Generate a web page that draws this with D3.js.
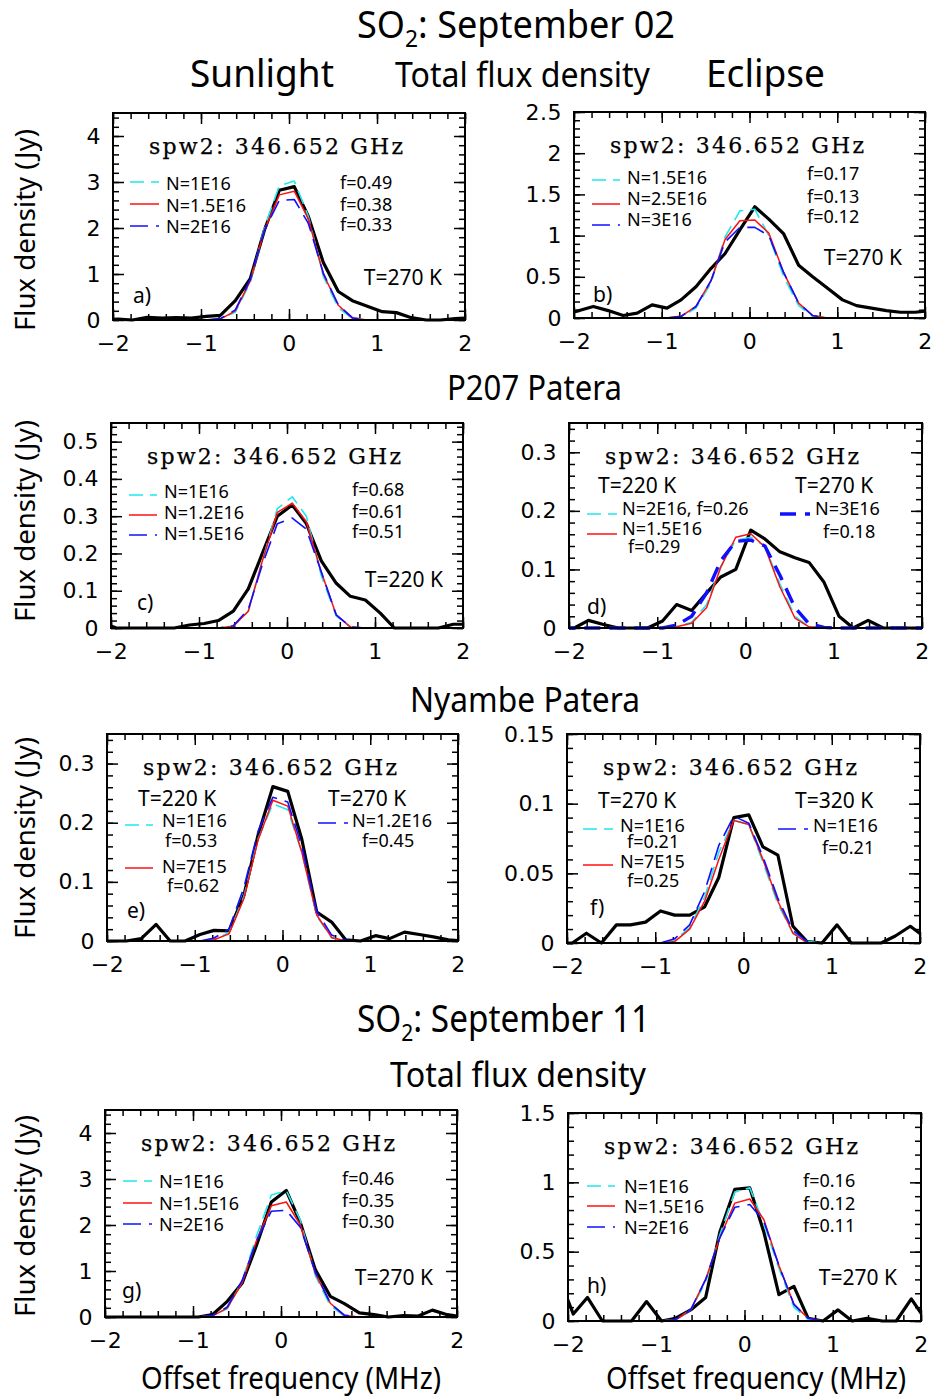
<!DOCTYPE html>
<html>
<head>
<meta charset="utf-8">
<script src="https://cdn.jsdelivr.net/npm/d3@7"></script>
<style>
  body { margin: 0; background: #fff; }
  svg { display: block; }
</style>
</head>
<body>
<div id="container"></div>
<script>
/* CONSTANTS AND GLOBALS */
const width = 933;
const height = 1398;
const sans = "'Noto Sans', 'Open Sans', sans-serif";
const tickFont = "'DejaVu Sans', sans-serif";
const spwFont = "'DejaVu Serif', serif";

/* DATA */
// channel offsets (MHz), shared by every spectrum
const freq = [-2.11, -1.94, -1.78, -1.61, -1.44, -1.28, -1.11, -0.94, -0.78, -0.61, -0.44, -0.28, -0.11,
              0.06, 0.22, 0.39, 0.56, 0.72, 0.89, 1.06, 1.22, 1.39, 1.56, 1.72, 1.89, 2.06];

// a) Sep 02 sunlight
const obsA  = [0, 0.02, 0, 0.06, 0.04, 0.05, 0.04, 0.08, 0.1, 0.42, 0.9, 1.95, 2.82, 2.9, 2.25, 1.25, 0.62, 0.42, 0.3, 0.18, 0.16, 0.05, 0, 0, 0.03, 0.05];
const cyanA = [0, 0, 0, 0, 0, 0, 0, 0, 0.02, 0.17, 0.82, 2.0, 2.92, 3.02, 2.25, 0.95, 0.27, 0.03, 0, 0, 0, 0, 0, 0, 0, 0];
const redA  = [0, 0, 0, 0, 0, 0, 0, 0, 0.02, 0.2, 0.85, 1.95, 2.72, 2.8, 2.2, 1.0, 0.32, 0.04, 0, 0, 0, 0, 0, 0, 0, 0];
const blueA = [0, 0, 0, 0, 0, 0, 0, 0, 0.03, 0.22, 0.88, 1.95, 2.6, 2.62, 2.1, 1.02, 0.33, 0.05, 0, 0, 0, 0, 0, 0, 0, 0];

// b) Sep 02 eclipse
const obsB  = [0.05, 0.09, 0.14, 0.09, 0.03, 0.06, 0.16, 0.12, 0.22, 0.38, 0.6, 0.78, 1.07, 1.35, 1.2, 1.02, 0.64, 0.5, 0.36, 0.22, 0.15, 0.12, 0.09, 0.07, 0.07, 0.09];
const cyanB = [0, 0, 0, 0, 0, 0, 0, 0, 0.01, 0.12, 0.42, 0.98, 1.3, 1.32, 1.0, 0.5, 0.15, 0.02, 0, 0, 0, 0, 0, 0, 0, 0];
const redB  = [0, 0, 0, 0, 0, 0, 0, 0, 0.02, 0.14, 0.45, 0.95, 1.18, 1.19, 1.03, 0.55, 0.18, 0.03, 0, 0, 0, 0, 0, 0, 0, 0];
const blueB = [0, 0, 0, 0, 0, 0, 0, 0, 0.02, 0.14, 0.45, 0.92, 1.1, 1.1, 1.0, 0.55, 0.18, 0.03, 0, 0, 0, 0, 0, 0, 0, 0];

// c) P207 sunlight
const obsC  = [0.015, 0, 0, 0, 0, 0, 0.008, 0.012, 0.02, 0.045, 0.105, 0.2, 0.3, 0.33, 0.28, 0.18, 0.12, 0.085, 0.075, 0.04, 0, 0, 0, 0, 0.01, 0.01];
const cyanC = [0, 0, 0, 0, 0, 0, 0, 0, 0, 0.005, 0.045, 0.18, 0.32, 0.352, 0.3, 0.14, 0.032, 0.002, 0, 0, 0, 0, 0, 0, 0, 0];
const redC  = [0, 0, 0, 0, 0, 0, 0, 0, 0, 0.005, 0.045, 0.18, 0.31, 0.335, 0.285, 0.15, 0.035, 0.003, 0, 0, 0, 0, 0, 0, 0, 0];
const blueC = [0, 0, 0, 0, 0, 0, 0, 0, 0, 0.006, 0.05, 0.17, 0.28, 0.295, 0.265, 0.15, 0.035, 0.003, 0, 0, 0, 0, 0, 0, 0, 0];

// d) P207 eclipse
const obsD  = [0, 0, 0.013, 0.006, 0, 0, 0, 0.012, 0.04, 0.03, 0.06, 0.087, 0.1, 0.167, 0.152, 0.13, 0.12, 0.112, 0.078, 0.02, 0, 0.013, 0, 0, 0, 0];
const cyanD = [0, 0, 0, 0, 0, 0, 0, 0, 0.002, 0.01, 0.04, 0.105, 0.15, 0.155, 0.14, 0.075, 0.02, 0.002, 0, 0, 0, 0, 0, 0, 0, 0];
const redD  = [0, 0, 0, 0, 0, 0, 0, 0, 0.002, 0.008, 0.035, 0.104, 0.155, 0.161, 0.138, 0.07, 0.017, 0.002, 0, 0, 0, 0, 0, 0, 0, 0];
const blueD = [0, 0, 0, 0, 0, 0, 0, 0, 0.005, 0.02, 0.06, 0.115, 0.148, 0.15, 0.14, 0.09, 0.035, 0.007, 0.001, 0, 0, 0, 0, 0, 0, 0];

// e) Nyambe sunlight
const obsE  = [0, 0, 0, 0.004, 0.028, 0, 0, 0.011, 0.018, 0.017, 0.077, 0.178, 0.261, 0.253, 0.172, 0.049, 0.032, 0.002, 0, 0.009, 0.004, 0.015, 0.011, 0.007, 0.002, 0];
const cyanE = [0, 0, 0, 0, 0, 0, 0, 0, 0.002, 0.014, 0.075, 0.172, 0.232, 0.222, 0.15, 0.042, 0.005, 0, 0, 0, 0, 0, 0, 0, 0, 0];
const redE  = [0, 0, 0, 0, 0, 0, 0, 0, 0.002, 0.012, 0.072, 0.17, 0.238, 0.228, 0.15, 0.044, 0.006, 0, 0, 0, 0, 0, 0, 0, 0, 0];
const blueE = [0, 0, 0, 0, 0, 0, 0, 0, 0.005, 0.02, 0.09, 0.185, 0.243, 0.235, 0.16, 0.05, 0.01, 0.001, 0, 0, 0, 0, 0, 0, 0, 0];

// f) Nyambe eclipse
const obsF  = [0, 0, 0.007, 0, 0.013, 0.013, 0.015, 0.023, 0.02, 0.02, 0.026, 0.047, 0.09, 0.092, 0.069, 0.063, 0.012, 0.001, 0, 0.013, 0, 0, 0, 0.005, 0.012, 0.004];
const cyanF = [0, 0, 0, 0, 0, 0, 0, 0, 0.002, 0.011, 0.033, 0.065, 0.088, 0.085, 0.058, 0.028, 0.007, 0.001, 0, 0, 0, 0, 0, 0, 0, 0];
const redF  = [0, 0, 0, 0, 0, 0, 0, 0, 0.001, 0.01, 0.03, 0.06, 0.088, 0.085, 0.06, 0.03, 0.007, 0, 0, 0, 0, 0, 0, 0, 0, 0];
const blueF = [0, 0, 0, 0, 0, 0, 0, 0, 0.003, 0.013, 0.037, 0.07, 0.091, 0.086, 0.062, 0.032, 0.009, 0.001, 0, 0, 0, 0, 0, 0, 0, 0];

// g) Sep 11 sunlight
const obsG  = [0, 0, 0, 0, 0, 0, 0, 0, 0.05, 0.34, 0.74, 1.55, 2.5, 2.75, 2.05, 1.03, 0.45, 0.29, 0.09, 0.05, 0, 0.03, 0.02, 0.15, 0.05, 0];
const cyanG = [0, 0, 0, 0, 0, 0, 0, 0, 0.02, 0.18, 0.78, 1.75, 2.65, 2.75, 2.1, 0.9, 0.25, 0.02, 0, 0, 0, 0, 0, 0, 0, 0];
const redG  = [0, 0, 0, 0, 0, 0, 0, 0, 0.02, 0.2, 0.75, 1.65, 2.42, 2.5, 2.0, 0.95, 0.3, 0.03, 0, 0, 0, 0, 0, 0, 0, 0];
const blueG = [0, 0, 0, 0, 0, 0, 0, 0, 0.03, 0.22, 0.8, 1.65, 2.3, 2.32, 1.95, 0.98, 0.3, 0.04, 0, 0, 0, 0, 0, 0, 0, 0];

// h) Sep 11 eclipse
const obsH  = [0.33, 0.05, 0.17, 0, 0, 0, 0.14, 0, 0.02, 0.08, 0.17, 0.64, 0.95, 0.96, 0.64, 0.19, 0.25, 0.02, 0, 0.08, 0, 0.02, 0, 0, 0.16, 0];
const cyanH = [0, 0, 0, 0, 0, 0, 0, 0, 0.01, 0.08, 0.28, 0.62, 0.93, 0.96, 0.7, 0.38, 0.1, 0.01, 0, 0, 0, 0, 0, 0, 0, 0];
const redH  = [0, 0, 0, 0, 0, 0, 0, 0, 0.01, 0.08, 0.3, 0.6, 0.85, 0.88, 0.73, 0.4, 0.12, 0.02, 0, 0, 0, 0, 0, 0, 0, 0];
const blueH = [0, 0, 0, 0, 0, 0, 0, 0, 0.01, 0.08, 0.3, 0.6, 0.82, 0.84, 0.72, 0.4, 0.12, 0.02, 0, 0, 0, 0, 0, 0, 0, 0];

// tick labels
const xTicks = [-2, -1, 0, 1, 2];
const yTicksA = [0, 1, 2, 3, 4];
const yTicksB = [0, 0.5, 1, 1.5, 2, 2.5];
const yTicksC = [0, 0.1, 0.2, 0.3, 0.4, 0.5];
const yTicksD = [0, 0.1, 0.2, 0.3];
const yTicksE = [0, 0.1, 0.2, 0.3];
const yTicksF = [0, 0.05, 0.1, 0.15];
const yTicksG = [0, 1, 2, 3, 4];
const yTicksH = [0, 0.5, 1, 1.5];

/* STYLES */
const styles = {
  obs:  { color: "#000",    w: 3.2, dash: null },
  cyan: { color: "#1ee8ee", w: 1.6, dash: "14,7" },
  red:  { color: "#ff1010", w: 1.5, dash: null },
  blue: { color: "#1010ff", w: 1.6, dash: "18,8" },
  blueThick: { color: "#1010ff", w: 3.4, dash: "16,9" }
};

/* PANELS (layout) */
const spw = "spw2: 346.652 GHz";
const panels = [
  { id: "a", x0: 113, x1: 465, y0: 113, y1: 320, ymax: 4.5, yTicks: yTicksA, minorY: 0.2, yTitle: 230,
    data: [obsA, cyanA, redA, blueA],
    notes: [
      { line: "cyan", x1: 17, x2: 46, y: 69 }, { line: "red", x1: 17, x2: 46, y: 91 }, { line: "blue", x1: 17, x2: 46, y: 113 },
      { t: "N=1E16", x: 53, y: 77 }, { t: "N=1.5E16", x: 53, y: 99 }, { t: "N=2E16", x: 53, y: 120 },
      { t: "f=0.49", x: 227, y: 76 }, { t: "f=0.38", x: 227, y: 98 }, { t: "f=0.33", x: 227, y: 118 },
      { t: "T=270 K", x: 329, y: 172, s: 21, end: true }, { t: "a)", x: 20, y: 190, s: 21 }
    ] },
  { id: "b", x0: 574, x1: 925, y0: 112, y1: 318, ymax: 2.5, yTicks: yTicksB, minorY: 0.1,
    data: [obsB, cyanB, redB, blueB],
    notes: [
      { line: "cyan", x1: 18, x2: 46, y: 68 }, { line: "red", x1: 18, x2: 46, y: 92 }, { line: "blue", x1: 18, x2: 46, y: 113 },
      { t: "N=1.5E16", x: 53, y: 72 }, { t: "N=2.5E16", x: 53, y: 93 }, { t: "N=3E16", x: 53, y: 114 },
      { t: "f=0.17", x: 233, y: 68 }, { t: "f=0.13", x: 233, y: 91 }, { t: "f=0.12", x: 233, y: 111 },
      { t: "T=270 K", x: 328, y: 153, s: 21, end: true }, { t: "b)", x: 19, y: 190, s: 21 }
    ] },
  { id: "c", x0: 111, x1: 463, y0: 423, y1: 628, ymax: 0.55, yTicks: yTicksC, minorY: 0.02, yTitle: 521,
    data: [obsC, cyanC, redC, blueC],
    notes: [
      { line: "cyan", x1: 18, x2: 46, y: 72 }, { line: "red", x1: 18, x2: 46, y: 92 }, { line: "blue", x1: 18, x2: 46, y: 112 },
      { t: "N=1E16", x: 53, y: 75 }, { t: "N=1.2E16", x: 53, y: 96 }, { t: "N=1.5E16", x: 53, y: 117 },
      { t: "f=0.68", x: 241, y: 73 }, { t: "f=0.61", x: 241, y: 95 }, { t: "f=0.51", x: 241, y: 115 },
      { t: "T=220 K", x: 332, y: 164, s: 21, end: true }, { t: "c)", x: 26, y: 187, s: 21 }
    ] },
  { id: "d", x0: 569, x1: 922, y0: 423, y1: 628, ymax: 0.35, yTicks: yTicksD, minorY: 0.02,
    data: [obsD, cyanD, redD, blueD], thickBlue: true,
    notes: [
      { t: "T=220 K", x: 29, y: 70, s: 21 }, { t: "T=270 K", x: 226, y: 70, s: 21 },
      { line: "cyan", x1: 18, x2: 48, y: 91 }, { t: "N=2E16, f=0.26", x: 53, y: 92 },
      { line: "red", x1: 18, x2: 48, y: 111 }, { t: "N=1.5E16", x: 53, y: 112 }, { t: "f=0.29", x: 59, y: 130 },
      { line: "blueThick", x1: 211, x2: 241, y: 91 }, { t: "N=3E16", x: 246, y: 92 }, { t: "f=0.18", x: 254, y: 115 },
      { t: "d)", x: 18, y: 191, s: 21 }
    ] },
  { id: "e", x0: 107, x1: 458, y0: 734, y1: 941, ymax: 0.35, yTicks: yTicksE, minorY: 0.02, yTitle: 838,
    data: [obsE, cyanE, redE, blueE],
    notes: [
      { t: "T=220 K", x: 31, y: 72, s: 21 }, { t: "T=270 K", x: 221, y: 72, s: 21 },
      { line: "cyan", x1: 18, x2: 46, y: 91 }, { t: "N=1E16", x: 55, y: 93 }, { t: "f=0.53", x: 58, y: 113 },
      { line: "red", x1: 18, x2: 46, y: 134 }, { t: "N=7E15", x: 55, y: 139 }, { t: "f=0.62", x: 60, y: 158 },
      { line: "blue", x1: 211, x2: 241, y: 89 }, { t: "N=1.2E16", x: 245, y: 93 }, { t: "f=0.45", x: 255, y: 113 },
      { t: "e)", x: 20, y: 184, s: 21 }
    ] },
  { id: "f", x0: 567, x1: 920, y0: 734, y1: 943, ymax: 0.15, yTicks: yTicksF, minorY: 0.01,
    data: [obsF, cyanF, redF, blueF],
    notes: [
      { t: "T=270 K", x: 31, y: 74, s: 21 }, { t: "T=320 K", x: 228, y: 74, s: 21 },
      { line: "cyan", x1: 16, x2: 46, y: 95 }, { t: "N=1E16", x: 53, y: 98 }, { t: "f=0.21", x: 60, y: 114 },
      { line: "red", x1: 16, x2: 46, y: 131 }, { t: "N=7E15", x: 53, y: 134 }, { t: "f=0.25", x: 60, y: 153 },
      { line: "blue", x1: 211, x2: 241, y: 95 }, { t: "N=1E16", x: 246, y: 98 }, { t: "f=0.21", x: 255, y: 120 },
      { t: "f)", x: 23, y: 181, s: 21 }
    ] },
  { id: "g", x0: 105, x1: 457, y0: 1110, y1: 1317, ymax: 4.5, yTicks: yTicksG, minorY: 0.2, yTitle: 1216,
    data: [obsG, cyanG, redG, blueG],
    notes: [
      { line: "cyan", x1: 18, x2: 47, y: 71 }, { line: "red", x1: 18, x2: 47, y: 93 }, { line: "blue", x1: 18, x2: 47, y: 114 },
      { t: "N=1E16", x: 54, y: 78 }, { t: "N=1.5E16", x: 54, y: 100 }, { t: "N=2E16", x: 54, y: 121 },
      { t: "f=0.46", x: 237, y: 75 }, { t: "f=0.35", x: 237, y: 97 }, { t: "f=0.30", x: 237, y: 118 },
      { t: "T=270 K", x: 328, y: 175, s: 21, end: true }, { t: "g)", x: 17, y: 188, s: 21 }
    ] },
  { id: "h", x0: 568, x1: 921, y0: 1113, y1: 1321, ymax: 1.5, yTicks: yTicksH, minorY: 0.1,
    data: [obsH, cyanH, redH, blueH],
    notes: [
      { line: "cyan", x1: 19, x2: 47, y: 73 }, { line: "red", x1: 19, x2: 47, y: 93 }, { line: "blue", x1: 19, x2: 47, y: 114 },
      { t: "N=1E16", x: 56, y: 80 }, { t: "N=1.5E16", x: 56, y: 100 }, { t: "N=2E16", x: 56, y: 121 },
      { t: "f=0.16", x: 235, y: 74 }, { t: "f=0.12", x: 235, y: 97 }, { t: "f=0.11", x: 235, y: 119 },
      { t: "T=270 K", x: 329, y: 172, s: 21, end: true }, { t: "h)", x: 19, y: 180, s: 21 }
    ] }
];

const svg = d3.select("#container")
  .append("svg")
  .attr("width", width)
  .attr("height", height)
  .style("background", "#fff");

const fmt = d => d === 0 ? "0" : d3.format("~g")(d);
const seriesKeys = ["obs", "cyan", "red", "blue"];

panels.forEach(p => {
  const x = d3.scaleLinear().domain([-2, 2]).range([p.x0, p.x1]);
  const y = d3.scaleLinear().domain([0, p.ymax]).range([p.y1, p.y0]);
  const g = svg.append("g").attr("class", "panel-" + p.id);

  svg.append("clipPath").attr("id", "clip-" + p.id)
    .append("rect")
    .attr("x", p.x0).attr("y", p.y0 - 2)
    .attr("width", p.x1 - p.x0).attr("height", p.y1 - p.y0 + 4);

  // axes: ticks on all four sides, pointing inward
  const minorX = d3.range(-2, 2.0001, 0.2);
  const minorY = d3.range(0, p.ymax + 1e-9, p.minorY);
  const axes = [
    [d3.axisBottom(x).tickValues(xTicks).tickSize(-11).tickPadding(15).tickFormat(fmt), `translate(0,${p.y1})`],
    [d3.axisBottom(x).tickValues(minorX).tickSize(-6).tickFormat(""), `translate(0,${p.y1})`],
    [d3.axisTop(x).tickValues(xTicks).tickSize(-11).tickFormat(""), `translate(0,${p.y0})`],
    [d3.axisTop(x).tickValues(minorX).tickSize(-6).tickFormat(""), `translate(0,${p.y0})`],
    [d3.axisLeft(y).tickValues(p.yTicks).tickSize(-11).tickPadding(12).tickFormat(fmt), `translate(${p.x0},0)`],
    [d3.axisLeft(y).tickValues(minorY).tickSize(-6).tickFormat(""), `translate(${p.x0},0)`],
    [d3.axisRight(y).tickValues(p.yTicks).tickSize(-11).tickFormat(""), `translate(${p.x1},0)`],
    [d3.axisRight(y).tickValues(minorY).tickSize(-6).tickFormat(""), `translate(${p.x1},0)`]
  ];
  axes.forEach(([ax, tr]) => {
    const a = g.append("g").attr("transform", tr).call(ax);
    a.select(".domain").remove();
    a.selectAll("line").attr("stroke", "#000").attr("stroke-width", 1.5);
    a.selectAll("text")
      .attr("font-family", tickFont)
      .attr("font-size", 22)
      .attr("letter-spacing", 0.5)
      .attr("fill", "#000");
  });

  // spectra
  const line = d3.line()
    .x((d, i) => x(freq[i]))
    .y(d => y(d));
  const lines = g.append("g").attr("clip-path", `url(#clip-${p.id})`);
  p.data.forEach((vals, k) => {
    let key = seriesKeys[k];
    if (key === "blue" && p.thickBlue) key = "blueThick";
    const st = styles[key];
    lines.append("path")
      .datum(vals)
      .attr("d", line)
      .attr("fill", "none")
      .attr("stroke", st.color)
      .attr("stroke-width", st.w)
      .attr("stroke-linejoin", "round")
      .attr("stroke-dasharray", st.dash);
  });

  // frame
  g.append("rect")
    .attr("x", p.x0).attr("y", p.y0)
    .attr("width", p.x1 - p.x0).attr("height", p.y1 - p.y0)
    .attr("fill", "none")
    .attr("stroke", "#000")
    .attr("stroke-width", 2);

  // spw label
  g.append("text")
    .attr("x", p.x0 + 36).attr("y", p.y0 + 41)
    .attr("font-family", spwFont)
    .attr("font-size", 22)
    .attr("stroke", "#000")
    .attr("stroke-width", 0.25)
    .attr("textLength", 254)
    .attr("lengthAdjust", "spacing")
    .text(spw);

  // legends and annotations
  p.notes.forEach(n => {
    if (n.line) {
      const st = styles[n.line];
      g.append("line")
        .attr("x1", p.x0 + n.x1).attr("x2", p.x0 + n.x2)
        .attr("y1", p.y0 + n.y).attr("y2", p.y0 + n.y)
        .attr("stroke", st.color)
        .attr("stroke-width", st.w)
        .attr("stroke-dasharray", st.dash);
    } else {
      g.append("text")
        .attr("x", p.x0 + n.x).attr("y", p.y0 + n.y)
        .attr("font-family", sans)
        .attr("font-size", n.s || 18)
        .attr("text-anchor", n.end ? "end" : "start")
        .text(n.t);
    }
  });

  // y title on the left column
  if (p.yTitle) {
    svg.append("text")
      .attr("transform", `translate(35,${p.yTitle}) rotate(-90)`)
      .attr("text-anchor", "middle")
      .attr("font-family", sans)
      .attr("font-size", 28)
      .attr("textLength", 202)
      .attr("lengthAdjust", "spacingAndGlyphs")
      .text("Flux density (Jy)");
  }
});

/* TITLES */
function title(txt, x, y, size, len) {
  return svg.append("text")
    .attr("x", x).attr("y", y)
    .attr("font-family", sans)
    .attr("font-size", size)
    .attr("textLength", len)
    .attr("lengthAdjust", "spacingAndGlyphs")
    .text(txt);
}
function so2Title(rest, x, y, len) {
  const t = svg.append("text")
    .attr("x", x).attr("y", y)
    .attr("font-family", sans)
    .attr("font-size", 38)
    .attr("textLength", len)
    .attr("lengthAdjust", "spacingAndGlyphs");
  t.append("tspan").text("SO");
  t.append("tspan").attr("font-size", 24).attr("dy", 9).text("2");
  t.append("tspan").attr("dy", -9).text(rest);
}

so2Title(": September 02", 357, 38, 318);
title("Sunlight", 190, 87, 38, 144);
title("Total flux density", 395, 87, 34, 255);
title("Eclipse", 706, 87, 38, 119);
title("P207 Patera", 447, 400, 34, 175);
title("Nyambe Patera", 410, 712, 34, 230);
so2Title(": September 11", 357, 1032, 293);
title("Total flux density", 390, 1087, 34, 256);
title("Offset frequency (MHz)", 141, 1389, 31, 300);
title("Offset frequency (MHz)", 606, 1389, 31, 300);
</script>
</body>
</html>
